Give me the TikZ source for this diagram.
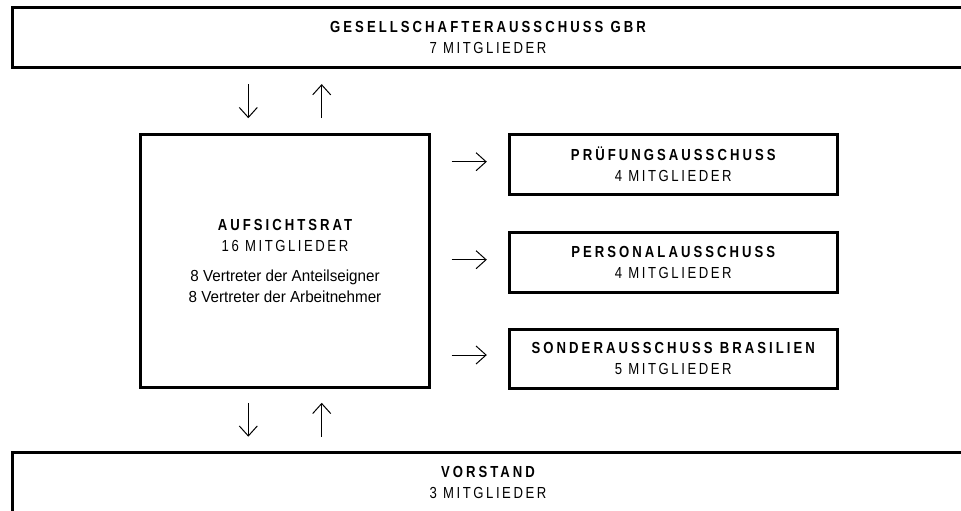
\documentclass[tikz,border=0pt]{standalone}
\usepackage{fontspec}
\setmainfont[FakeStretch=0.95]{Liberation Sans}
\usetikzlibrary{arrows.meta,positioning}

\newcommand{\titel}[1]{{\bfseries\addfontfeature{FakeStretch=0.82,LetterSpace=19}\spaceskip=.45em#1}}
\newcommand{\anzahl}[1]{{\addfontfeature{FakeStretch=0.82,LetterSpace=16}#1}}

\begin{document}
\begin{tikzpicture}[x=1pt,y=-1pt,
	kasten/.style={draw=black, line width=3pt, inner sep=0pt, align=center, font=\fontsize{16}{21}\selectfont},
	pfeil/.style={-{Straight Barb[length=10pt,width=18pt]}, line width=1pt}]
\useasboundingbox (0,0) rectangle (961,511);
\clip (0,0) rectangle (961,511);

\node[kasten, minimum width=951, minimum height=60](Ges) at (488,37.6) {\titel{GESELLSCHAFTERAUSSCHUSS GBR}\\\anzahl{7 MITGLIEDER}};
\node[kasten, minimum width=288.4, minimum height=253](Auf) at (285,260.5) {\titel{AUFSICHTSRAT}\\\anzahl{16 MITGLIEDER}\\[9pt]8 Vertreter der Anteilseigner\\8 Vertreter der Arbeitnehmer};
\node[kasten, minimum width=951, minimum height=60](Vor) at (488,482.5) {\titel{VORSTAND}\\\anzahl{3 MITGLIEDER}};

\node[kasten, minimum width=328, minimum height=60](Pru) at (673.3,164.2) {\titel{PRÜFUNGSAUSSCHUSS}\\\anzahl{4 MITGLIEDER}};
\node[kasten, minimum width=328, minimum height=60](Per) at (673.3,262.7) {\titel{PERSONALAUSSCHUSS}\\\anzahl{4 MITGLIEDER}};
\node[kasten, minimum width=328, minimum height=59](Son) at (673.3,358.5) {\titel{SONDERAUSSCHUSS BRASILIEN}\\\anzahl{5 MITGLIEDER}};

\coordinate (Auf1) at ([xshift=-36.7pt]Auf.north);
\coordinate (Auf2) at ([xshift=36.7pt]Auf.north);
\coordinate (Auf3) at ([xshift=-36.7pt]Auf.south);
\coordinate (Auf4) at ([xshift=36.7pt]Auf.south);
	\draw[pfeil, shorten <=15pt, shorten >=14.3pt] (Auf1 |- Ges.south) to (Auf1);
	\draw[pfeil, shorten <=14.3pt, shorten >=15pt] (Auf2) to (Auf2 |- Ges.south);
	\draw[pfeil, shorten <=14.3pt, shorten >=14.3pt] (Auf3) to (Auf3 |- Vor.north);
	\draw[pfeil, shorten <=14.3pt, shorten >=14.3pt] (Auf4 |- Vor.north) to (Auf4);

\coordinate (Pru1) at ([yshift=2.5pt]Pru.west);
\coordinate (Per1) at ([yshift=3pt]Per.west);
\coordinate (Son1) at ([yshift=3.5pt]Son.west);
	\draw[pfeil, shorten <=21pt, shorten >=21pt] (Auf.east |- Pru1) to (Pru1);
	\draw[pfeil, shorten <=21pt, shorten >=21pt] (Auf.east |- Per1) to (Per1);
	\draw[pfeil, shorten <=21pt, shorten >=21pt] (Auf.east |- Son1) to (Son1);
\end{tikzpicture}
\end{document}
